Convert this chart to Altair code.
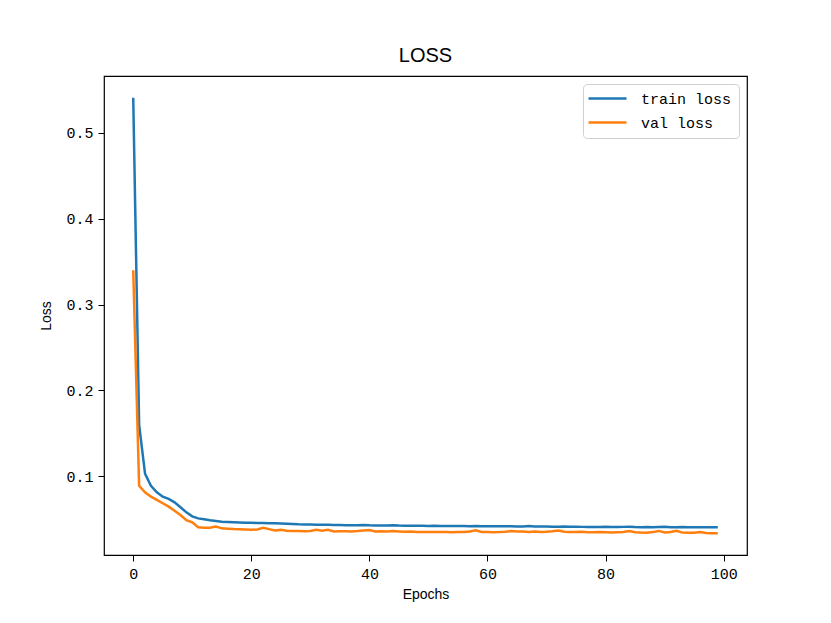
import altair as alt
import pandas as pd

epochs = list(range(100))

train_loss = [
    0.541, 0.160, 0.103, 0.089, 0.0814, 0.0763, 0.0737, 0.0697, 0.064, 0.058,
    0.0534, 0.051, 0.050, 0.0487, 0.048, 0.0472, 0.0468, 0.0465, 0.0462, 0.046,
    0.0459, 0.0456, 0.0455, 0.0453, 0.0452, 0.0450, 0.0447, 0.0444, 0.0441, 0.0440,
    0.0438, 0.0437, 0.0436, 0.0436, 0.0434, 0.0433, 0.0431, 0.0431, 0.0430, 0.0434,
    0.0429, 0.0428, 0.0428, 0.0427, 0.0431, 0.0426, 0.0425, 0.0424, 0.0423, 0.0423,
    0.0421, 0.0424, 0.0422, 0.0421, 0.0421, 0.0420, 0.0420, 0.0419, 0.0421, 0.0419,
    0.0418, 0.0418, 0.0417, 0.0418, 0.0417, 0.0416, 0.0415, 0.0420, 0.0414, 0.0416,
    0.0414, 0.0413, 0.0413, 0.0416, 0.0412, 0.0412, 0.0411, 0.0411, 0.0410, 0.0410,
    0.0411, 0.0409, 0.0410, 0.0411, 0.0413, 0.0409, 0.0408, 0.0409, 0.0408, 0.0410,
    0.0412, 0.0408, 0.0407, 0.0409, 0.0407, 0.0406, 0.0406, 0.0407, 0.0406, 0.0406,
]

val_loss = [
    0.340, 0.089, 0.0814, 0.0763, 0.0725, 0.0686, 0.0647, 0.060, 0.055, 0.049,
    0.0464, 0.0406, 0.040, 0.0402, 0.0414, 0.0394, 0.0390, 0.0386, 0.0384, 0.0380,
    0.0377, 0.0380, 0.0400, 0.0385, 0.0370, 0.0376, 0.0367, 0.0362, 0.0364, 0.0361,
    0.0363, 0.0376, 0.0365, 0.0378, 0.0358, 0.0360, 0.0361, 0.0358, 0.0362, 0.0368,
    0.0374, 0.0357, 0.0360, 0.0356, 0.0362, 0.0358, 0.0355, 0.0357, 0.0350, 0.0352,
    0.0351, 0.0350, 0.0352, 0.0350, 0.0349, 0.0351, 0.0352, 0.0356, 0.0370, 0.0352,
    0.0350, 0.0349, 0.0350, 0.0355, 0.0362, 0.0356, 0.0358, 0.0350, 0.0356, 0.0352,
    0.0354, 0.0360, 0.0368, 0.0355, 0.0352, 0.0350, 0.0353, 0.0349, 0.0348, 0.0350,
    0.0348, 0.0346, 0.0349, 0.0352, 0.0362, 0.0348, 0.0345, 0.0344, 0.0350, 0.0364,
    0.0346, 0.0352, 0.0366, 0.0344, 0.0342, 0.0343, 0.0352, 0.0340, 0.0338, 0.0337,
]

series_names = ["train loss", "val loss"]
series_colors = ["#1f77b4", "#ff7f0e"]
x_ticks = [0, 20, 40, 60, 80, 100]
y_ticks = [0.1, 0.2, 0.3, 0.4, 0.5]

df = pd.DataFrame({
    "Epochs": epochs + epochs,
    "Loss": train_loss + val_loss,
    "series": [series_names[0]] * len(epochs) + [series_names[1]] * len(epochs),
})

# matplotlib-style 5% margins
xmin, xmax = min(epochs), max(epochs)
ymin, ymax = min(df["Loss"]), max(df["Loss"])
xm = 0.05 * (xmax - xmin)
ym = 0.05 * (ymax - ymin)

MONO = "Liberation Mono"
SANS = "Liberation Sans"

chart = alt.Chart(df).mark_line(strokeWidth=2.5).encode(
    x=alt.X("Epochs:Q",
            scale=alt.Scale(domain=[xmin - xm, xmax + xm], nice=False, zero=False),
            axis=alt.Axis(values=x_ticks, title="Epochs", format="d")),
    y=alt.Y("Loss:Q",
            scale=alt.Scale(domain=[ymin - ym, ymax + ym], nice=False, zero=False),
            axis=alt.Axis(values=y_ticks, title="Loss", format=".1f")),
    color=alt.Color("series:N",
                    scale=alt.Scale(domain=series_names, range=series_colors),
                    legend=alt.Legend(title=None, orient="none", legendX=479, legendY=8,
                                      symbolType="M-1.8,0H5.8", symbolSize=100,
                                      symbolStrokeWidth=2.5,
                                      labelFont=MONO, labelFontSize=15, labelColor="black",
                                      labelOffset=36, rowPadding=8,
                                      padding=7, strokeColor="#d0d0d0", fillColor="white",
                                      cornerRadius=4)),
).properties(
    width=643,
    height=479,
    title=alt.TitleParams("LOSS", font=SANS, fontSize=20, fontWeight="normal",
                          color="black", offset=10),
    padding={"left": 104, "top": 76, "right": 84, "bottom": 68},
    autosize=alt.AutoSizeParams(type="none"),
).configure_view(
    stroke="black", strokeWidth=1.2
).configure_axis(
    domain=False, grid=False, ticks=True, tickColor="black", tickSize=6, tickWidth=1,
    labelFont=MONO, labelFontSize=15, labelColor="black", labelPadding=5,
    titleFont=SANS, titleFontSize=14, titleFontWeight="normal", titleColor="black",
).configure_axisX(
    titlePadding=6
).configure_axisY(
    titlePadding=12
)

chart.save("out.html", embed_options={"renderer": "svg", "actions": False})
